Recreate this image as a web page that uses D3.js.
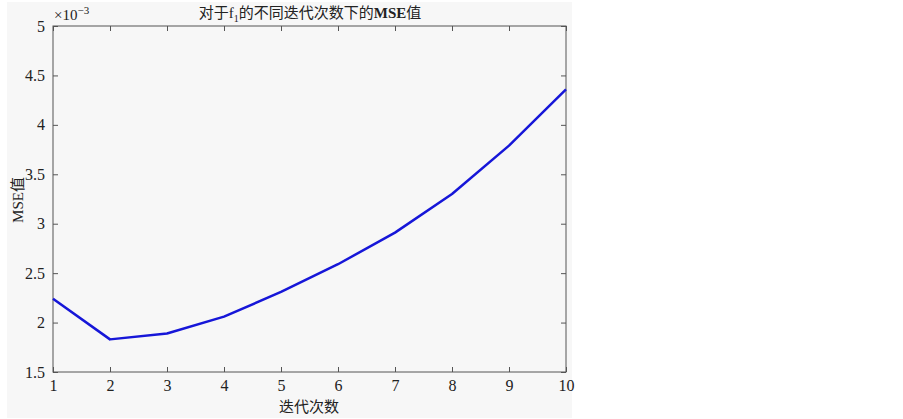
<!DOCTYPE html>
<html>
<head>
<meta charset="utf-8">
<script src="https://cdn.jsdelivr.net/npm/d3@7"></script>
<style>
  body { margin: 0; background: #fff; }
  text { font-family: "Liberation Serif", "Noto Sans CJK SC", serif; fill: #222; }
</style>
</head>
<body>
<svg width="903" height="419"></svg>
<script>
// iterations and MSE (x 1e-3)
var iterations = [1, 2, 3, 4, 5, 6, 7, 8, 9, 10];
var mseValues = [2.24, 1.83, 1.89, 2.06, 2.31, 2.59, 2.91, 3.30, 3.79, 4.36];
var xTicks = [1, 2, 3, 4, 5, 6, 7, 8, 9, 10];
var yTicks = [1.5, 2, 2.5, 3, 3.5, 4, 4.5, 5];

var svg = d3.select("svg");
var margin = {top: 26, left: 53, right: 337, bottom: 47};
var width = 903 - margin.left - margin.right,
    height = 419 - margin.top - margin.bottom;

// figure background
svg.append("rect")
    .attr("x", 7).attr("y", 2)
    .attr("width", 565).attr("height", 416)
    .attr("fill", "#f7f7f7");

var x = d3.scaleLinear().domain([1, 10]).range([0, width]);
var y = d3.scaleLinear().domain([1.5, 5]).range([height, 0]);

var g = svg.append("g")
    .attr("transform", "translate(" + margin.left + "," + margin.top + ")");

function styleAxis(sel, hideText) {
    sel.select(".domain").remove();
    sel.selectAll("line").attr("stroke", "#555").attr("stroke-width", 1);
    sel.selectAll("text").style("font-size", "16px").style("fill", "#222");
    if (hideText) sel.selectAll("text").remove();
}

g.append("g")
    .attr("transform", "translate(0," + height + ")")
    .call(d3.axisBottom(x).tickValues(xTicks).tickSizeInner(-5).tickSizeOuter(0).tickPadding(8))
    .call(function(s){ styleAxis(s, false); });

g.append("g")
    .call(d3.axisTop(x).tickValues(xTicks).tickSizeInner(-5).tickSizeOuter(0))
    .call(function(s){ styleAxis(s, true); });

g.append("g")
    .call(d3.axisLeft(y).tickValues(yTicks).tickFormat(d3.format("")).tickSizeInner(-5).tickSizeOuter(0).tickPadding(8))
    .call(function(s){ styleAxis(s, false); });

g.append("g")
    .attr("transform", "translate(" + width + ",0)")
    .call(d3.axisRight(y).tickValues(yTicks).tickSizeInner(-5).tickSizeOuter(0))
    .call(function(s){ styleAxis(s, true); });

// box
g.append("rect")
    .attr("width", width).attr("height", height)
    .attr("fill", "none").attr("stroke", "#555").attr("stroke-width", 1);

var line = d3.line()
    .x(function(d, i) { return x(iterations[i]); })
    .y(function(d) { return y(d); });

g.append("path")
    .datum(mseValues)
    .attr("d", line)
    .attr("fill", "none")
    .attr("stroke", "#1616d8")
    .attr("stroke-width", 2.5)
    .attr("stroke-linejoin", "round");

// exponent label
var ex = svg.append("text")
    .attr("x", margin.left + 1).attr("y", 20)
    .style("font-size", "15px");
ex.append("tspan").text("×10");
ex.append("tspan").attr("dy", -6).style("font-size", "11px").text("−3");

// title
var t = svg.append("text")
    .attr("x", 310).attr("y", 18)
    .attr("text-anchor", "middle")
    .style("font-size", "15px");
t.append("tspan").text("对于f");
t.append("tspan").attr("dy", 4).style("font-size", "10px").text("1");
t.append("tspan").attr("dy", -4).text("的不同迭代次数下的");
t.append("tspan").style("font-weight", "bold").text("MSE");
t.append("tspan").text("值");

svg.append("text")
    .attr("x", 309).attr("y", 412)
    .attr("text-anchor", "middle")
    .style("font-size", "15px")
    .text("迭代次数");

svg.append("text")
    .attr("transform", "translate(23,200) rotate(-90)")
    .attr("text-anchor", "middle")
    .style("font-size", "15px")
    .text("MSE值");
</script>
</body>
</html>
